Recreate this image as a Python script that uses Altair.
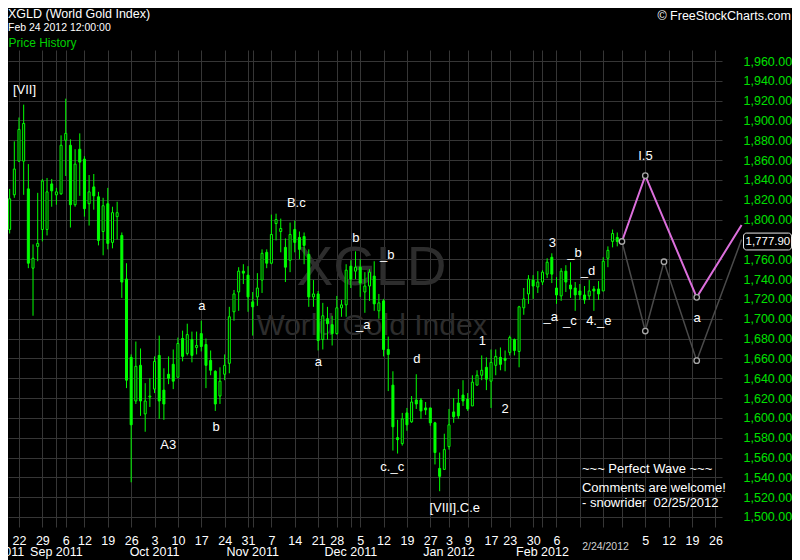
import altair as alt
import pandas as pd

# ---------------- data ----------------
# trading-day index 0 = Aug 16 2011 ... 132 = Feb 24 2012
opens = [1767, 1789, 1790, 1825, 1859, 1859, 1831, 1751, 1773, 1790,
         1790, 1836, 1825, 1826, 1880, 1875, 1815, 1871, 1861, 1816,
         1833, 1823, 1788, 1816, 1777, 1803, 1784, 1740, 1661, 1617,
         1653, 1604, 1621, 1629, 1663, 1628, 1644, 1654, 1641, 1680,
         1665, 1679, 1671, 1685, 1674, 1658, 1647, 1622, 1644, 1655,
         1707, 1727, 1748, 1744, 1717, 1722, 1739, 1767, 1756, 1796,
         1788, 1772, 1759, 1790, 1782, 1783, 1765, 1722, 1725, 1679,
         1700, 1694, 1685, 1711, 1714, 1753, 1748, 1752, 1727, 1733,
         1743, 1708, 1718, 1669, 1633, 1580, 1574, 1605, 1596, 1618,
         1618, 1610, 1610, 1595, 1549, 1548, 1571, 1606, 1615, 1623,
         1619, 1612, 1633, 1643, 1651, 1637, 1653, 1661, 1660, 1666,
         1679, 1667, 1711, 1725, 1739, 1732, 1737, 1745, 1762, 1731,
         1723, 1748, 1734, 1731, 1728, 1724, 1723, 1730, 1730, 1728,
         1761, 1778, 1782]
highs = [1789, 1797, 1831, 1879, 1903, 1916, 1856, 1775, 1827, 1841,
         1842, 1841, 1832, 1885, 1922, 1881, 1871, 1887, 1864, 1845,
         1846, 1828, 1822, 1832, 1813, 1818, 1787, 1756, 1664, 1677,
         1670, 1635, 1640, 1662, 1683, 1650, 1662, 1669, 1681, 1688,
         1695, 1687, 1687, 1698, 1680, 1668, 1648, 1651, 1664, 1712,
         1729, 1752, 1755, 1753, 1727, 1746, 1770, 1770, 1805, 1806,
         1801, 1781, 1797, 1799, 1788, 1787, 1770, 1739, 1728, 1716,
         1712, 1703, 1723, 1719, 1755, 1759, 1768, 1760, 1747, 1750,
         1758, 1725, 1720, 1682, 1647, 1598, 1605, 1610, 1622, 1644,
         1620, 1616, 1610, 1596, 1565, 1584, 1609, 1620, 1629, 1638,
         1625, 1643, 1648, 1663, 1661, 1669, 1669, 1671, 1668, 1683,
         1680, 1713, 1731, 1744, 1744, 1748, 1749, 1761, 1766, 1742,
         1751, 1754, 1757, 1737, 1735, 1733, 1739, 1733, 1738, 1762,
         1773, 1790, 1787]
lows = [1763, 1782, 1786, 1822, 1858, 1825, 1751, 1703, 1758, 1778,
        1784, 1813, 1815, 1825, 1844, 1792, 1813, 1824, 1803, 1794,
        1810, 1774, 1764, 1770, 1771, 1780, 1721, 1630, 1535, 1614,
        1602, 1586, 1611, 1625, 1599, 1598, 1634, 1629, 1641, 1657,
        1663, 1656, 1664, 1667, 1630, 1643, 1607, 1614, 1638, 1645,
        1698, 1708, 1735, 1707, 1683, 1713, 1726, 1751, 1755, 1779,
        1767, 1737, 1747, 1767, 1760, 1755, 1712, 1712, 1668, 1669,
        1679, 1673, 1684, 1702, 1702, 1731, 1740, 1722, 1706, 1718,
        1708, 1700, 1662, 1627, 1567, 1564, 1572, 1587, 1595, 1609,
        1599, 1603, 1592, 1553, 1526, 1548, 1568, 1595, 1599, 1612,
        1607, 1612, 1633, 1638, 1628, 1610, 1643, 1648, 1647, 1663,
        1663, 1651, 1704, 1715, 1720, 1726, 1734, 1741, 1736, 1715,
        1718, 1727, 1721, 1708, 1719, 1715, 1719, 1708, 1719, 1728,
        1752, 1772, 1773]
closes = [1784, 1794, 1821, 1851, 1891, 1897, 1756, 1761, 1776, 1839,
          1828, 1829, 1828, 1875, 1887, 1815, 1856, 1858, 1811, 1828,
          1824, 1779, 1814, 1776, 1807, 1807, 1737, 1638, 1593, 1652,
          1617, 1617, 1622, 1657, 1617, 1614, 1640, 1637, 1675, 1662,
          1684, 1663, 1673, 1672, 1653, 1648, 1614, 1637, 1653, 1702,
          1725, 1748, 1746, 1722, 1712, 1731, 1766, 1756, 1785, 1800,
          1791, 1752, 1785, 1777, 1770, 1774, 1722, 1725, 1678, 1703,
          1695, 1685, 1711, 1714, 1749, 1740, 1752, 1736, 1733, 1747,
          1715, 1716, 1669, 1664, 1591, 1578, 1599, 1593, 1616, 1614,
          1607, 1608, 1595, 1565, 1541, 1568, 1593, 1601, 1602, 1617,
          1609, 1636, 1643, 1648, 1639, 1656, 1662, 1654, 1658, 1681,
          1668, 1712, 1720, 1740, 1733, 1737, 1747, 1757, 1745, 1724,
          1748, 1737, 1730, 1724, 1724, 1719, 1728, 1728, 1725, 1758,
          1769, 1786, 1777.9]

# projected wave paths (trading-day index, price)
proj_main_idx = [133, 138, 149, 158.6]
proj_main_val = [1777.9, 1844.3, 1721.6, 1794.6]
proj_alt_idx = [133, 138, 142, 149, 158.6]
proj_alt_val = [1777.9, 1687.6, 1757.5, 1657.7, 1779.9]

# wave labels
ann_text = ["[VII]", "B.c", "a", "A3", "b", "a", "b", "_b", "_a", "d", "c._c",
            "[VIII].C.e", "1", "2", "3", "_b", "_d", "_a", "_c", "4._e", "I.5", "a"]
ann_idx = [5.18, 63.33, 43.15, 35.94, 46.15, 68.04, 76.06, 82.8, 77.66, 89.11, 83.85,
           97.22, 103.12, 107.98, 118.14, 122.85, 125.74, 117.76, 121.85, 128.05, 138.04, 149.1]
ann_price = [1927.2, 1812.7, 1708.8, 1568.3, 1586.8, 1652.6, 1777.1, 1760.0, 1689.3, 1655.0, 1546.7,
             1505.3, 1673.5, 1604.9, 1772.7, 1762.0, 1744.1, 1698.0, 1693.4, 1693.4, 1860.1, 1696.4]

note_text = ["~~~ Perfect Wave ~~~", "Comments are welcome!", "- snowrider \u00a002/25/2012"]
note_idx = [124.45, 124.45, 124.45]
note_price = [1544.1, 1525.5, 1510.4]

# axis ticks
day_tick_idx = [4, 9, 14, 18, 23, 28, 33, 38, 43, 48, 53, 58, 63, 68, 72, 77, 82, 87,
                92, 96, 100, 105, 109, 114, 119, 138, 143, 148, 153]
day_tick_lbl = ["22", "29", "6", "12", "19", "26", "3", "10", "17", "24", "31", "7", "14",
                "21", "28", "5", "12", "19", "27", "3", "9", "17", "23", "30", "6",
                "5", "12", "19", "26"]
extra_grid_idx = [12, 54, 75, 116, 124, 129, 133]
month_idx = [-0.5, 12, 33, 54, 75, 96, 116]
month_lbl = ["Aug 2011", "Sep 2011", "Oct 2011", "Nov 2011", "Dec 2011", "Jan 2012", "Feb 2012"]
price_ticks = list(range(1500, 1961, 20))

# ---------------- styling ----------------
GREEN = "#00ff00"
LABEL_GREEN = "#00e000"
GRID = "#363636"
FONT = "Liberation Sans"

xs = alt.Scale(domain=[1.647, 154.41], nice=False, zero=False, padding=0)
ys = alt.Scale(domain=[1489.9, 1971.1], nice=False, zero=False, padding=0)

grid_idx = sorted(set(day_tick_idx + extra_grid_idx))
expr = ""
for v, t in zip(day_tick_idx, day_tick_lbl):
    expr += f"datum.value == {v} ? '{t}' : "
expr += "''"

x_axis = alt.Axis(values=grid_idx, labelExpr=expr, orient="bottom", grid=True,
                  gridColor=GRID, gridWidth=1, ticks=False, tickSize=0, domain=False,
                  labelColor="white", labelFont=FONT, labelFontSize=12.5,
                  labelPadding=7, labelOverlap=False, labelFlush=False, title=None)
y_axis = alt.Axis(values=price_ticks, format=",.2f", orient="right", grid=True,
                  gridColor=GRID, gridWidth=1, ticks=False, tickSize=0, domain=False,
                  labelColor=LABEL_GREEN, labelFont=FONT, labelFontSize=12.5,
                  labelPadding=21, labelAlign="left", labelOverlap=False, title=None)


def X(f):
    return alt.X(f, type="quantitative", scale=xs, axis=x_axis, title=None)


def Y(f):
    return alt.Y(f, type="quantitative", scale=ys, axis=y_axis, title=None)


df = pd.DataFrame({"idx": list(range(len(opens))), "o": opens, "h": highs,
                   "l": lows, "c": closes})

# watermark
wm1 = alt.Chart(pd.DataFrame({"t": ["XGLD"]})).mark_text(
    font=FONT, fontSize=55, color="#2d2d2d", align="center", baseline="alphabetic"
).encode(x=alt.value(363.5), y=alt.value(235), text="t:N")
wm2 = alt.Chart(pd.DataFrame({"t": ["World Gold Index"]})).mark_text(
    font=FONT, fontSize=30, color="#2d2d2d", align="center", baseline="alphabetic"
).encode(x=alt.value(364), y=alt.value(285), text="t:N")

wicks = alt.Chart(df).mark_rule(color=GREEN, strokeWidth=1).encode(
    x=X("idx"), y=Y("l"), y2=alt.Y2("h:Q"),
)
bodies = alt.Chart(df).mark_bar(width=2, stroke=GREEN, strokeWidth=1).encode(
    x=X("idx"), y=Y("o"), y2=alt.Y2("c:Q"),
    fill=alt.condition("datum.c >= datum.o", alt.value("black"), alt.value(GREEN)),
)

main_df = pd.DataFrame({"idx": proj_main_idx, "p": proj_main_val})
alt_df = pd.DataFrame({"idx": proj_alt_idx, "p": proj_alt_val})
alt_line = alt.Chart(alt_df).mark_line(color="#4a4a4a", strokeWidth=1.5).encode(
    x=X("idx"), y=Y("p"))
main_line = alt.Chart(main_df).mark_line(color="#dc6fdc", strokeWidth=2).encode(
    x=X("idx"), y=Y("p"))
verts = pd.concat([main_df, alt_df]).drop_duplicates()
verts = verts[verts["idx"] < 158]
markers = alt.Chart(verts).mark_point(
    shape="circle", size=30, filled=False, fill="black", fillOpacity=1,
    stroke="#a8a8a8", strokeWidth=1.3, opacity=1
).encode(x=X("idx"), y=Y("p"))

ann = alt.Chart(pd.DataFrame({"t": ann_text, "idx": ann_idx, "p": ann_price})).mark_text(
    font=FONT, fontSize=13, color="white", align="center", baseline="alphabetic"
).encode(x=X("idx"), y=Y("p"), text="t:N")
notes = alt.Chart(pd.DataFrame({"t": note_text, "idx": note_idx, "p": note_price})).mark_text(
    font=FONT, fontSize=13, color="white", align="left", baseline="alphabetic"
).encode(x=X("idx"), y=Y("p"), text="t:N")

last = closes[-1]
box_df = pd.DataFrame({"top": [last + 8.5], "bot": [last - 8.5], "c": [last],
                       "t": [f"{last:,.2f}"]})
box = alt.Chart(box_df).mark_rect(fill="black", stroke="#e8e8e8", strokeWidth=1,
                                  cornerRadius=3).encode(
    x=alt.value(735.5), x2=alt.value(783.5), y=Y("top"), y2=alt.Y2("bot:Q"))
box_txt = alt.Chart(box_df).mark_text(font=FONT, fontSize=11.5, color="white",
                                      align="left", baseline="middle").encode(
    x=alt.value(737.5), y=Y("c"), text="t:N")

months = alt.Chart(pd.DataFrame({"t": month_lbl, "idx": month_idx})).mark_text(
    font=FONT, fontSize=12.5, color="white", align="center", baseline="alphabetic"
).encode(x=X("idx"), y=alt.value(506), text="t:N")
date_lbl = alt.Chart(pd.DataFrame({"t": ["2/24/2012"]})).mark_text(
    font=FONT, fontSize=10.5, color="#d0d0d0", align="center", baseline="alphabetic"
).encode(x=alt.value(597.5), y=alt.value(499.5), text="t:N")

h1 = alt.Chart(pd.DataFrame({"t": ["XGLD (World Gold Index)"]})).mark_text(
    font=FONT, fontSize=12.5, color="white", align="left", baseline="alphabetic"
).encode(x=alt.value(0), y=alt.value(-32.5), text="t:N")
h2 = alt.Chart(pd.DataFrame({"t": ["Feb 24 2012 12:00:00"]})).mark_text(
    font=FONT, fontSize=10.5, color="white", align="left", baseline="alphabetic"
).encode(x=alt.value(0), y=alt.value(-19.5), text="t:N")
h3 = alt.Chart(pd.DataFrame({"t": ["Price History"]})).mark_text(
    font=FONT, fontSize=12, color="#00d000", align="left", baseline="alphabetic"
).encode(x=alt.value(0.5), y=alt.value(-3), text="t:N")
h4 = alt.Chart(pd.DataFrame({"t": ["\u00a9 FreeStockCharts.com"]})).mark_text(
    font=FONT, fontSize=12.5, color="white", align="right", baseline="alphabetic"
).encode(x=alt.value(783), y=alt.value(-30), text="t:N")

chart = alt.layer(
    wm1, wm2, wicks, bodies, alt_line, main_line, markers, ann, notes,
    box, box_txt, months, date_lbl, h1, h2, h3, h4
).properties(
    width=714, height=477, background="black",
    autosize=alt.AutoSizeParams(type="none"),
    padding={"left": 0, "top": 42, "right": 70, "bottom": 33},
).configure_view(stroke=None)

chart.save("out.html", embed_options={"renderer": "svg", "actions": False})
